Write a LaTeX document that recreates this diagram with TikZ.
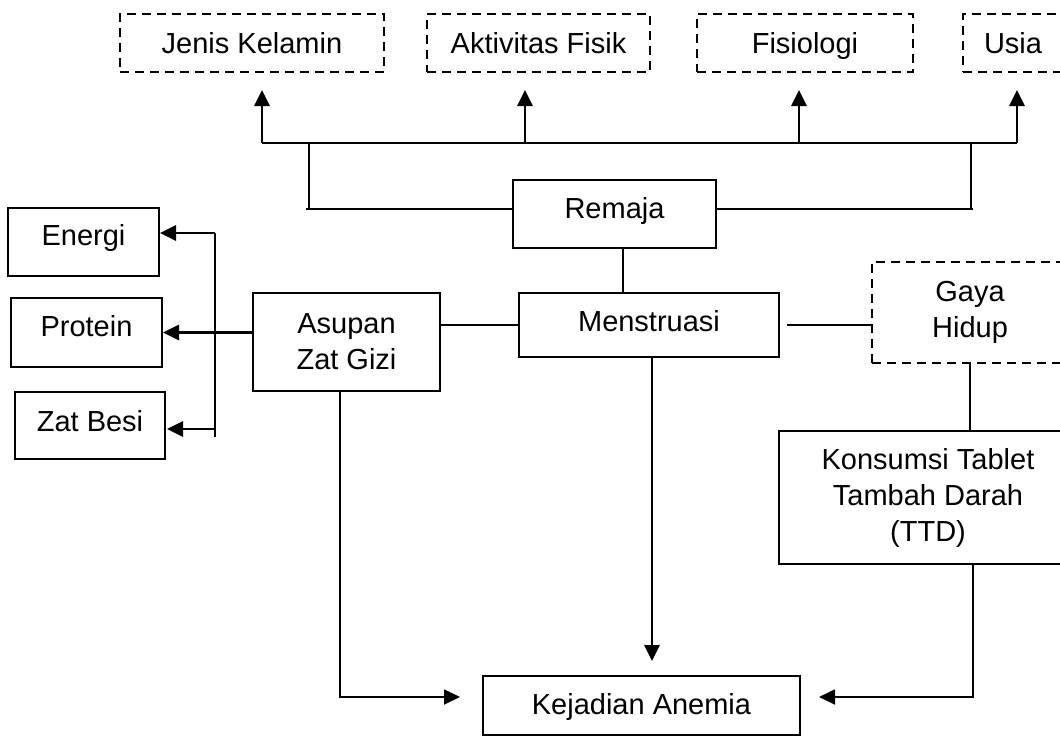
\documentclass[tikz,border=0pt]{standalone}
\usepackage{fontspec}
\setmainfont{Liberation Sans}
\usetikzlibrary{arrows.meta}
\tikzset{
  box/.style={draw, line width=2pt, inner sep=0pt, align=center,
    font=\fontsize{29}{36}\selectfont},
  dbox/.style={box, dash pattern=on 9pt off 6pt},
  one/.style={text height=20pt, text depth=#1},
  tip/.style={-{Triangle[length=16pt,width=15pt]}},
  arr/.style={line width=2.8pt, tip},
  thk/.style={line width=2.5pt},
  ln/.style={line width=1.8pt},
}
\begin{document}
\begin{tikzpicture}[x=1pt,y=-1pt]
\useasboundingbox (0,0) rectangle (1060,736);
\clip (0,0) rectangle (1060,736);
% top dashed boxes
\node[dbox, one=0pt, minimum width=264pt, minimum height=58pt] (jk) at (252,43) {Jenis Kelamin};
\node[dbox, one=0pt, minimum width=223pt, minimum height=58pt] (af) at (538.5,43) {Aktivitas Fisik};
\node[dbox, one=0pt, minimum width=216pt, minimum height=58pt] (fi) at (805,43) {Fisiologi};
\node[dbox, one=0pt, minimum width=100pt, minimum height=58pt] (us) at (1013,43) {Usia};
% central
\node[box, one=12pt, minimum width=203pt, minimum height=68pt] (remaja) at (614.5,214) {Remaja};
\node[box, one=7pt, minimum width=260pt, minimum height=64pt] (mens) at (649,325) {Menstruasi};
\node[box, minimum width=187pt, minimum height=98pt] (asupan) at (346.5,342) {Asupan\\Zat Gizi};
\node[dbox, minimum width=196pt, minimum height=101pt] (gaya) at (970,312.5) {Gaya\\Hidup};
\node[box, minimum width=298pt, minimum height=133pt] (ttd) at (928,497.5) {Konsumsi Tablet\\Tambah Darah\\(TTD)};
\node[box, one=2pt, minimum width=317pt, minimum height=59pt] (anemia) at (641.5,705.5) {Kejadian Anemia};
% left boxes
\node[box, one=14pt, minimum width=151pt, minimum height=68pt] (energi) at (83.5,242) {Energi};
\node[box, one=13pt, minimum width=151pt, minimum height=69pt] (protein) at (86.5,332.5) {Protein};
\node[box, one=9pt, minimum width=150pt, minimum height=67pt] (besi) at (90,425.5) {Zat Besi};
% top bus
\coordinate (b1) at (262,143);
\coordinate (b2) at (525,143);
\coordinate (b3) at (799,143);
\coordinate (b4) at (1017,143);
\coordinate (lb) at (309,143);
\coordinate (rb) at (971,143);
\coordinate (ll) at (306,209);
\coordinate (rl) at (973,209);
\draw[thk] (b1) -- (b4);
\draw[arr, shorten >=17pt] (b1) -- (b1 |- jk.south);
\draw[arr, shorten >=17pt] (b2) -- (b2 |- af.south);
\draw[arr, shorten >=17pt] (b3) -- (b3 |- fi.south);
\draw[arr, shorten >=17pt] (b4) -- (b4 |- us.south);
\draw[ln] (lb) -- (lb |- ll);
\draw[thk] (ll) -- (ll -| remaja.west);
\draw[ln] (rb) -- (rb |- rl);
\draw[thk] (remaja.east |- rl) -- (rl);
% middle connectors
\draw[ln] ([xshift=8.5pt]remaja.south) -- ([xshift=8.5pt]remaja.south |- mens.north);
\draw[ln] (mens.west) -- (mens.west -| asupan.east);
\draw[ln] ([xshift=7pt]mens.east) -- (mens.east -| gaya.west);
\draw[ln] (gaya.south) -- (gaya.south |- ttd.north);
\draw[arr, shorten >=14pt] ([xshift=3pt]mens.south) -- ([xshift=3pt]mens.south |- anemia.north);
% to anemia
\coordinate (ak) at (340,697);
\coordinate (tk) at (973,697);
\draw[ln, tip, shorten >=22pt] (asupan.south -| ak) -- (ak) -- (ak -| anemia.west);
\draw[ln, tip, shorten >=18pt] (ttd.south -| tk) -- (tk) -- (tk -| anemia.east);
% nutrient bus
\coordinate (nt) at (215,233);
\coordinate (nb) at (215,437);
\coordinate (nz) at (215,429);
\draw[thk] (nt) -- (nb);
\draw[arr] (nt) -- (nt -| energi.east);
\draw[arr] (protein.east -| asupan.west) -- (protein.east);
\draw[arr, shorten >=1pt] (nz) -- (nz -| besi.east);
\end{tikzpicture}
\end{document}
